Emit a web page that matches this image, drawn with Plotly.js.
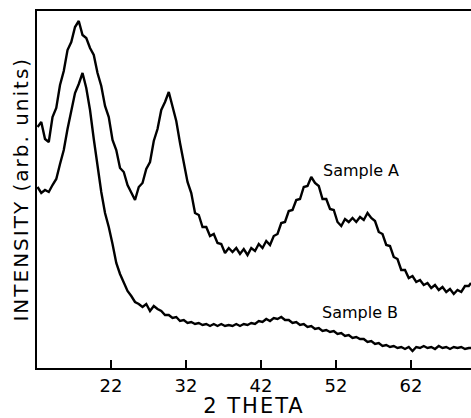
<!DOCTYPE html>
<html>
<head>
<meta charset="utf-8">
<script src="https://cdn.plot.ly/plotly-3.0.1.min.js"></script>
<style>
  html, body { margin: 0; padding: 0; background: #ffffff; }
  #chart { width: 471px; height: 418px; }
  .xtitle { letter-spacing: 2px; }
  .annotation-text.ytitle-ann, .ytitle-ann { letter-spacing: 2px; }
</style>
</head>
<body>
<div id="chart"></div>
<script>
// 2-theta positions (degrees)
const twoTheta = [
  12.2, 12.7, 13.2, 13.7, 14.2, 14.7, 15.2, 15.7, 16.2, 16.7,
  17.2, 17.7, 18.2, 18.7, 19.2, 19.7, 20.2, 20.7, 21.2, 21.7,
  22.2, 22.7, 23.2, 23.7, 24.2, 24.7, 25.2, 25.7, 26.2, 26.7,
  27.2, 27.7, 28.2, 28.7, 29.2, 29.7, 30.2, 30.7, 31.2, 31.7,
  32.2, 32.7, 33.2, 33.7, 34.2, 34.7, 35.2, 35.7, 36.2, 36.7,
  37.2, 37.7, 38.2, 38.7, 39.2, 39.7, 40.2, 40.7, 41.2, 41.7,
  42.2, 42.7, 43.2, 43.7, 44.2, 44.7, 45.2, 45.7, 46.2, 46.7,
  47.2, 47.7, 48.2, 48.7, 49.2, 49.7, 50.2, 50.7, 51.2, 51.7,
  52.2, 52.7, 53.2, 53.7, 54.2, 54.7, 55.2, 55.7, 56.2, 56.7,
  57.2, 57.7, 58.2, 58.7, 59.2, 59.7, 60.2, 60.7, 61.2, 61.7,
  62.2, 62.7, 63.2, 63.7, 64.2, 64.7, 65.2, 65.7, 66.2, 66.7,
  67.2, 67.7, 68.2, 68.7, 69.2, 69.7, 70.0
];

// Sample A intensity (arb. units)
const sampleA = [
  241, 246, 229, 226, 251, 260, 283, 297, 318, 326,
  341, 347, 333, 330, 320, 313, 295, 282, 262, 251,
  228, 218, 200, 196, 183, 175, 168, 181, 185, 199,
  206, 227, 239, 258, 266, 276, 260, 247, 225, 207,
  186, 175, 155, 153, 141, 141, 132, 134, 125, 124,
  115, 120, 116, 120, 114, 119, 113, 120, 117, 124,
  120, 127, 123, 132, 134, 145, 146, 157, 158, 168,
  169, 181, 182, 191, 185, 182, 169, 169, 159, 158,
  146, 142, 149, 146, 150, 146, 151, 148, 155, 150,
  147, 136, 134, 123, 122, 111, 109, 98, 98, 90,
  92, 86, 88, 83, 85, 80, 83, 78, 81, 76,
  79, 74, 78, 76, 82, 82, 85
];

// Sample B intensity (arb. units)
const sampleB = [
  181, 175, 178, 176, 183, 189, 204, 218, 239, 256,
  275, 284, 295, 280, 258, 229, 202, 176, 155, 141,
  124, 105, 94, 86, 77, 72, 66, 64, 61, 64,
  57, 62, 59, 57, 53, 53, 50, 51, 47, 48,
  45, 46, 44, 45, 43, 44, 42, 44, 42, 44,
  42, 43, 42, 44, 42, 44, 43, 45, 44, 47,
  46, 49, 47, 50, 49, 51, 48, 48, 45, 46,
  43, 44, 41, 42, 39, 40, 37, 38, 36, 37,
  34, 35, 32, 33, 30, 31, 29, 29, 26, 27,
  24, 25, 22, 23, 21, 22, 20, 21, 19, 21,
  17, 21, 20, 22, 20, 21, 19, 22, 20, 21,
  19, 21, 20, 21, 19, 20, 20
];

const xTicks = [22, 32, 42, 52, 62];
const seriesLabels = ["Sample A", "Sample B"];
const labelPos = { x: [55.3, 55.2], y: [198, 56] };
const yTitle = "INTENSITY (arb. units)";
const xTitle = "2 THETA";

const FONT = "DejaVu Sans, Arial, sans-serif";

const traces = [
  {
    x: twoTheta, y: sampleA, type: "scatter", mode: "lines",
    name: seriesLabels[0], line: { color: "#000000", width: 2.4 },
    hoverinfo: "skip"
  },
  {
    x: twoTheta, y: sampleB, type: "scatter", mode: "lines",
    name: seriesLabels[1], line: { color: "#000000", width: 2.4 },
    hoverinfo: "skip"
  }
];

const annotations = seriesLabels.map((t, i) => ({
  x: labelPos.x[i], y: labelPos.y[i], xref: "x", yref: "y",
  text: t, showarrow: false,
  font: { family: FONT, size: 16, color: "#000000" }
}));
annotations.push({
  x: -0.039, y: 0.5, xref: "paper", yref: "paper",
  xanchor: "center", yanchor: "middle", textangle: -90,
  text: yTitle, showarrow: false,
  font: { family: FONT, size: 20, color: "#000000" }
});

const layout = {
  width: 471, height: 418,
  margin: { l: 37, r: 0, t: 11, b: 50 },
  paper_bgcolor: "#ffffff", plot_bgcolor: "#ffffff",
  showlegend: false,
  font: { family: FONT, color: "#000000" },
  xaxis: {
    range: [12.13, 70],
    tickvals: xTicks, ticktext: xTicks.map(String),
    ticks: "inside", ticklen: 8, tickwidth: 1.5, tickcolor: "#000000",
    showline: true, linewidth: 2, linecolor: "#000000", mirror: true,
    showgrid: false, zeroline: false,
    tickfont: { family: FONT, size: 18, color: "#000000" },
    title: { text: xTitle, font: { family: FONT, size: 21, color: "#000000" } },
    automargin: false
  },
  yaxis: {
    range: [0, 357],
    showticklabels: false, ticks: "",
    showline: true, linewidth: 2, linecolor: "#000000",
    showgrid: false, zeroline: false,
    automargin: false
  },
  annotations: annotations
};

Plotly.newPlot("chart", traces, layout, { staticPlot: true, displayModeBar: false }).then(() => {
  const anns = document.querySelectorAll(".annotation-text");
  if (anns.length) anns[anns.length - 1].style.letterSpacing = "2px";
});
</script>
</body>
</html>
